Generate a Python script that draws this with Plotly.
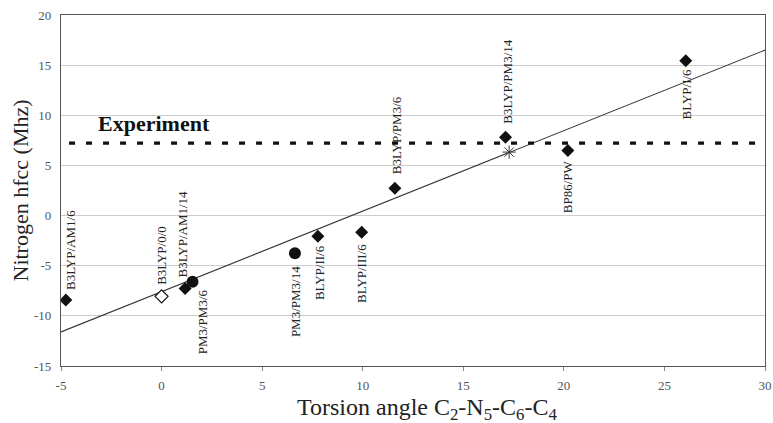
import plotly.graph_objects as go

# ---------------- data ----------------
diamond_names = ["B3LYP/AM1/6", "B3LYP/AM1/14", "BLYP/II/6", "BLYP/III/6",
                 "B3LYP/PM3/6", "B3LYP/PM3/14", "BP86/PW", "BLYP/I/6"]
diamond_angle = [-4.76, 1.17, 7.77, 9.95, 11.6, 17.1, 20.2, 26.06]
diamond_hfcc = [-8.43, -7.26, -2.06, -1.66, 2.72, 7.82, 6.5, 15.45]

circle_names = ["PM3/PM3/6", "PM3/PM3/14"]
circle_angle = [1.54, 6.63]
circle_hfcc = [-6.6, -3.75]

open_names = ["B3LYP/0/0"]
open_angle = [0.0]
open_hfcc = [-8.05]

star_angle = [17.28]
star_hfcc = [6.33]

experiment_hfcc = 7.22
experiment_range = [-4.6, 30]

trend_slope = 0.803
trend_intercept = -7.59
trend_range = [-5, 30]

x_ticks = [-5, 0, 5, 10, 15, 20, 25, 30]
x_tick_labels = ["-5", "0", "5", "10", "15", "20", "25", "30"]
y_ticks = [-15, -10, -5, 0, 5, 10, 15, 20]
y_tick_labels = ["-15", "-10", "-5", "0", "5", "10", "15", "20"]

# ---------------- label placement (pixel offsets, style only) ----------------
label_shift = {
    "B3LYP/AM1/6": (4, 50),
    "B3LYP/0/0": (0, 41),
    "B3LYP/AM1/14": (-3, 54),
    "PM3/PM3/6": (10, -40),
    "PM3/PM3/14": (0, -48),
    "BLYP/II/6": (1, -36),
    "BLYP/III/6": (0, -41),
    "B3LYP/PM3/6": (1, 53),
    "B3LYP/PM3/14": (2, 55),
    "BP86/PW": (0, -36),
    "BLYP/I/6": (1, -34),
}

SERIF = "Liberation Serif"

fig = go.Figure()

# trend line
fig.add_trace(go.Scatter(
    x=trend_range,
    y=[trend_slope * v + trend_intercept for v in trend_range],
    mode="lines", line=dict(color="#333333", width=1.1),
    hoverinfo="skip", showlegend=False))

# experiment line
fig.add_trace(go.Scatter(
    x=experiment_range, y=[experiment_hfcc, experiment_hfcc],
    mode="lines", line=dict(color="#111111", width=3.2, dash="6px,11px"),
    hoverinfo="skip", showlegend=False))

fig.add_trace(go.Scatter(
    x=diamond_angle, y=diamond_hfcc, mode="markers",
    marker=dict(symbol="diamond", size=10, color="#111111"),
    showlegend=False))
fig.add_trace(go.Scatter(
    x=circle_angle, y=circle_hfcc, mode="markers",
    marker=dict(symbol="circle", size=12, color="#111111"),
    showlegend=False))
fig.add_trace(go.Scatter(
    x=open_angle, y=open_hfcc, mode="markers",
    marker=dict(symbol="diamond", size=10, color="white",
                line=dict(color="#111111", width=1.2)),
    showlegend=False))
fig.add_trace(go.Scatter(
    x=star_angle, y=star_hfcc, mode="markers",
    marker=dict(symbol="asterisk-open", size=11, color="#333333",
                line=dict(color="#333333", width=1)),
    showlegend=False))

# rotated labels
for names, xs, ys in [(diamond_names, diamond_angle, diamond_hfcc),
                      (circle_names, circle_angle, circle_hfcc),
                      (open_names, open_angle, open_hfcc)]:
    for n, xv, yv in zip(names, xs, ys):
        dx, dy = label_shift[n]
        fig.add_annotation(x=xv, y=yv, text=n, showarrow=False,
                           textangle=-90, xanchor="center", yanchor="middle",
                           xshift=dx, yshift=dy,
                           font=dict(family=SERIF, size=13, color="#222222"))

# experiment label
fig.add_annotation(x=experiment_range[0], y=experiment_hfcc, text="<b>Experiment</b>",
                   showarrow=False, xanchor="left", yanchor="bottom",
                   xshift=27, yshift=5,
                   font=dict(family=SERIF, size=22, color="#111111"))

# axis titles
fig.add_annotation(xref="paper", yref="paper", x=0.52, y=0, yanchor="top",
                   yshift=-26, showarrow=False,
                   text="Torsion angle C<sub>2</sub>-N<sub>5</sub>-C<sub>6</sub>-C<sub>4</sub>",
                   font=dict(family=SERIF, size=24, color="#222222"))
fig.add_annotation(xref="paper", yref="paper", x=0, y=0.5, xanchor="center",
                   xshift=-41, showarrow=False, textangle=-90,
                   text="Nitrogen hfcc (Mhz)",
                   font=dict(family=SERIF, size=22, color="#222222"))

fig.update_xaxes(range=[-5, 30], tickvals=x_ticks, ticktext=x_tick_labels,
                 showgrid=False, zeroline=False, automargin=False,
                 showline=True, mirror=True, linecolor="#555555", linewidth=1.2,
                 ticks="outside", ticklen=4, tickcolor="#888888",
                 ticklabelstandoff=3, ticklabeloverflow="allow",
                 tickfont=dict(family=SERIF, size=13, color="#555555"))
fig.update_yaxes(range=[-15, 20], tickvals=y_ticks, ticktext=y_tick_labels,
                 showgrid=True, automargin=False,
                 gridcolor="#cccccc", gridwidth=1.2, zeroline=False,
                 showline=True, mirror=True, linecolor="#555555", linewidth=1.2,
                 ticks="", ticklabelstandoff=6, ticklabeloverflow="allow",
                 tickfont=dict(family=SERIF, size=13, color="#555555"))

fig.update_layout(width=773, height=423, margin=dict(l=61, r=8, t=15, b=57),
                  plot_bgcolor="white", paper_bgcolor="white",
                  font=dict(family=SERIF))

# remove the default 8px page margin so the 773x423 figure fills the window
fig.write_html("out.html",
               config={"displayModeBar": False},
               post_script="document.body.style.margin='0';"
                           "document.body.style.overflow='hidden';")
